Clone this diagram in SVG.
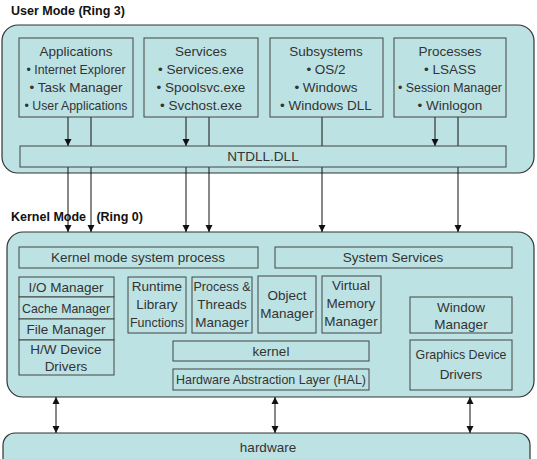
<svg xmlns="http://www.w3.org/2000/svg" width="537" height="459" viewBox="0 0 537 459">
<defs>
<style>
.t{font-family:"Liberation Sans",Arial,sans-serif;font-size:13.5px;fill:#333;text-anchor:middle}
.h{font-family:"Liberation Sans",Arial,sans-serif;font-size:12.5px;font-weight:bold;fill:#111}
.box{fill:#bde2e3;stroke:#444;stroke-width:1}
.big{fill:#bde2e3;stroke:#333;stroke-width:1.2}
.ln{stroke:#111;stroke-width:1;fill:none}
</style>
<marker id="ah" markerWidth="8" markerHeight="8" refX="7" refY="4" orient="auto" markerUnits="userSpaceOnUse">
<path d="M0,0.5 L7,4 L0,7.5 z" fill="#111"/>
</marker>
<marker id="as" markerWidth="8" markerHeight="8" refX="0" refY="4" orient="auto" markerUnits="userSpaceOnUse">
<path d="M7,0.5 L0,4 L7,7.5 z" fill="#111"/>
</marker>
</defs>
<rect width="537" height="459" fill="#fff"/>

<text class="h" x="11" y="15">User Mode (Ring 3)</text>
<text class="h" x="11" y="221" xml:space="preserve">Kernel Mode   (Ring 0)</text>

<g id="user-mode"><rect class="big" x="2" y="25" width="532" height="148" rx="16"/></g>
<g id="kernel-mode"><rect class="big" x="7" y="232" width="527" height="165" rx="16"/></g>
<g id="hardware"><rect class="big" x="3" y="433" width="527" height="40" rx="12"/><text class="t" x="268" y="452">hardware</text></g>

<g id="connectors">
<line class="ln" x1="68" y1="117" x2="68" y2="146" marker-end="url(#ah)"/>
<line class="ln" x1="91" y1="117" x2="91" y2="146"/>
<line class="ln" x1="186" y1="117" x2="186" y2="146" marker-end="url(#ah)"/>
<line class="ln" x1="209" y1="117" x2="209" y2="146"/>
<line class="ln" x1="322" y1="117" x2="322" y2="146"/>
<line class="ln" x1="435" y1="117" x2="435" y2="146" marker-end="url(#ah)"/>
<line class="ln" x1="458" y1="117" x2="458" y2="146"/>
<line class="ln" x1="68" y1="167" x2="68" y2="232" marker-end="url(#ah)"/>
<line class="ln" x1="91" y1="167" x2="91" y2="232" marker-end="url(#ah)"/>
<line class="ln" x1="186" y1="167" x2="186" y2="232" marker-end="url(#ah)"/>
<line class="ln" x1="209" y1="167" x2="209" y2="232" marker-end="url(#ah)"/>
<line class="ln" x1="322" y1="167" x2="322" y2="232" marker-end="url(#ah)"/>
<line class="ln" x1="458" y1="167" x2="458" y2="232" marker-end="url(#ah)"/>
<line class="ln" x1="56" y1="397" x2="56" y2="433" marker-start="url(#as)" marker-end="url(#ah)"/>
<line class="ln" x1="275" y1="397" x2="275" y2="433" marker-start="url(#as)" marker-end="url(#ah)"/>
<line class="ln" x1="470" y1="397" x2="470" y2="433" marker-start="url(#as)" marker-end="url(#ah)"/>
</g>

<g id="applications"><rect class="box" x="19" y="38" width="114" height="79"/>
<text class="t" x="76" y="56">Applications</text>
<text class="t" x="76" y="74" textLength="99" lengthAdjust="spacingAndGlyphs">• Internet Explorer</text>
<text class="t" x="76" y="92">• Task Manager</text>
<text class="t" x="76" y="110" textLength="103" lengthAdjust="spacingAndGlyphs">• User Applications</text></g>

<g id="services"><rect class="box" x="144" y="38" width="114" height="79"/>
<text class="t" x="201" y="56">Services</text>
<text class="t" x="201" y="74">• Services.exe</text>
<text class="t" x="201" y="92">• Spoolsvc.exe</text>
<text class="t" x="201" y="110">• Svchost.exe</text></g>

<g id="subsystems"><rect class="box" x="270" y="38" width="113" height="79"/>
<text class="t" x="326" y="56">Subsystems</text>
<text class="t" x="326" y="74">• OS/2</text>
<text class="t" x="326" y="92">• Windows</text>
<text class="t" x="326" y="110">• Windows DLL</text></g>

<g id="processes"><rect class="box" x="394" y="38" width="112" height="79"/>
<text class="t" x="450" y="56">Processes</text>
<text class="t" x="450" y="74">• LSASS</text>
<text class="t" x="450" y="92" textLength="104" lengthAdjust="spacingAndGlyphs">• Session Manager</text>
<text class="t" x="450" y="110">• Winlogon</text></g>

<g id="ntdll"><rect class="box" x="20" y="146" width="486" height="21"/>
<text class="t" x="263" y="161">NTDLL.DLL</text></g>

<g id="kernel-system-process"><rect class="box" x="19" y="247" width="239" height="21"/>
<text class="t" x="138" y="262">Kernel mode system process</text></g>

<g id="system-services"><rect class="box" x="275" y="247" width="237" height="21"/>
<text class="t" x="393" y="262">System Services</text></g>

<g id="io-manager"><rect class="box" x="19" y="277" width="95" height="20"/>
<text class="t" x="66" y="292">I/O Manager</text></g>
<g id="cache-manager"><rect class="box" x="19" y="297" width="95" height="22"/>
<text class="t" x="66" y="313" textLength="88" lengthAdjust="spacingAndGlyphs">Cache Manager</text></g>
<g id="file-manager"><rect class="box" x="19" y="319" width="95" height="21"/>
<text class="t" x="66" y="334">File Manager</text></g>
<g id="hw-device-drivers"><rect class="box" x="19" y="340" width="95" height="35"/>
<text class="t" x="66" y="354">H/W Device</text>
<text class="t" x="66" y="371">Drivers</text></g>

<g id="runtime-library"><rect class="box" x="128" y="277" width="58" height="56"/>
<text class="t" x="157" y="291">Runtime</text>
<text class="t" x="157" y="309">Library</text>
<text class="t" x="157" y="327" textLength="54" lengthAdjust="spacingAndGlyphs">Functions</text></g>

<g id="process-threads"><rect class="box" x="192" y="277" width="60" height="56"/>
<text class="t" x="222" y="291" textLength="57" lengthAdjust="spacingAndGlyphs">Process &amp;</text>
<text class="t" x="222" y="309">Threads</text>
<text class="t" x="222" y="327">Manager</text></g>

<g id="object-manager"><rect class="box" x="258" y="276" width="58" height="57"/>
<text class="t" x="287" y="300">Object</text>
<text class="t" x="287" y="318">Manager</text></g>

<g id="virtual-memory"><rect class="box" x="322" y="276" width="59" height="57"/>
<text class="t" x="351" y="290">Virtual</text>
<text class="t" x="351" y="308">Memory</text>
<text class="t" x="351" y="326">Manager</text></g>

<g id="window-manager"><rect class="box" x="410" y="297" width="102" height="36"/>
<text class="t" x="461" y="312">Window</text>
<text class="t" x="461" y="329">Manager</text></g>

<g id="graphics-device-drivers"><rect class="box" x="410" y="340" width="102" height="50"/>
<text class="t" x="461" y="359" textLength="91" lengthAdjust="spacingAndGlyphs">Graphics Device</text>
<text class="t" x="461" y="379">Drivers</text></g>

<g id="kernel"><rect class="box" x="173" y="341" width="196" height="20"/>
<text class="t" x="271" y="356">kernel</text></g>

<g id="hal"><rect class="box" x="173" y="369" width="196" height="21"/>
<text class="t" x="271" y="384" textLength="190" lengthAdjust="spacingAndGlyphs">Hardware Abstraction Layer (HAL)</text></g>
</svg>
